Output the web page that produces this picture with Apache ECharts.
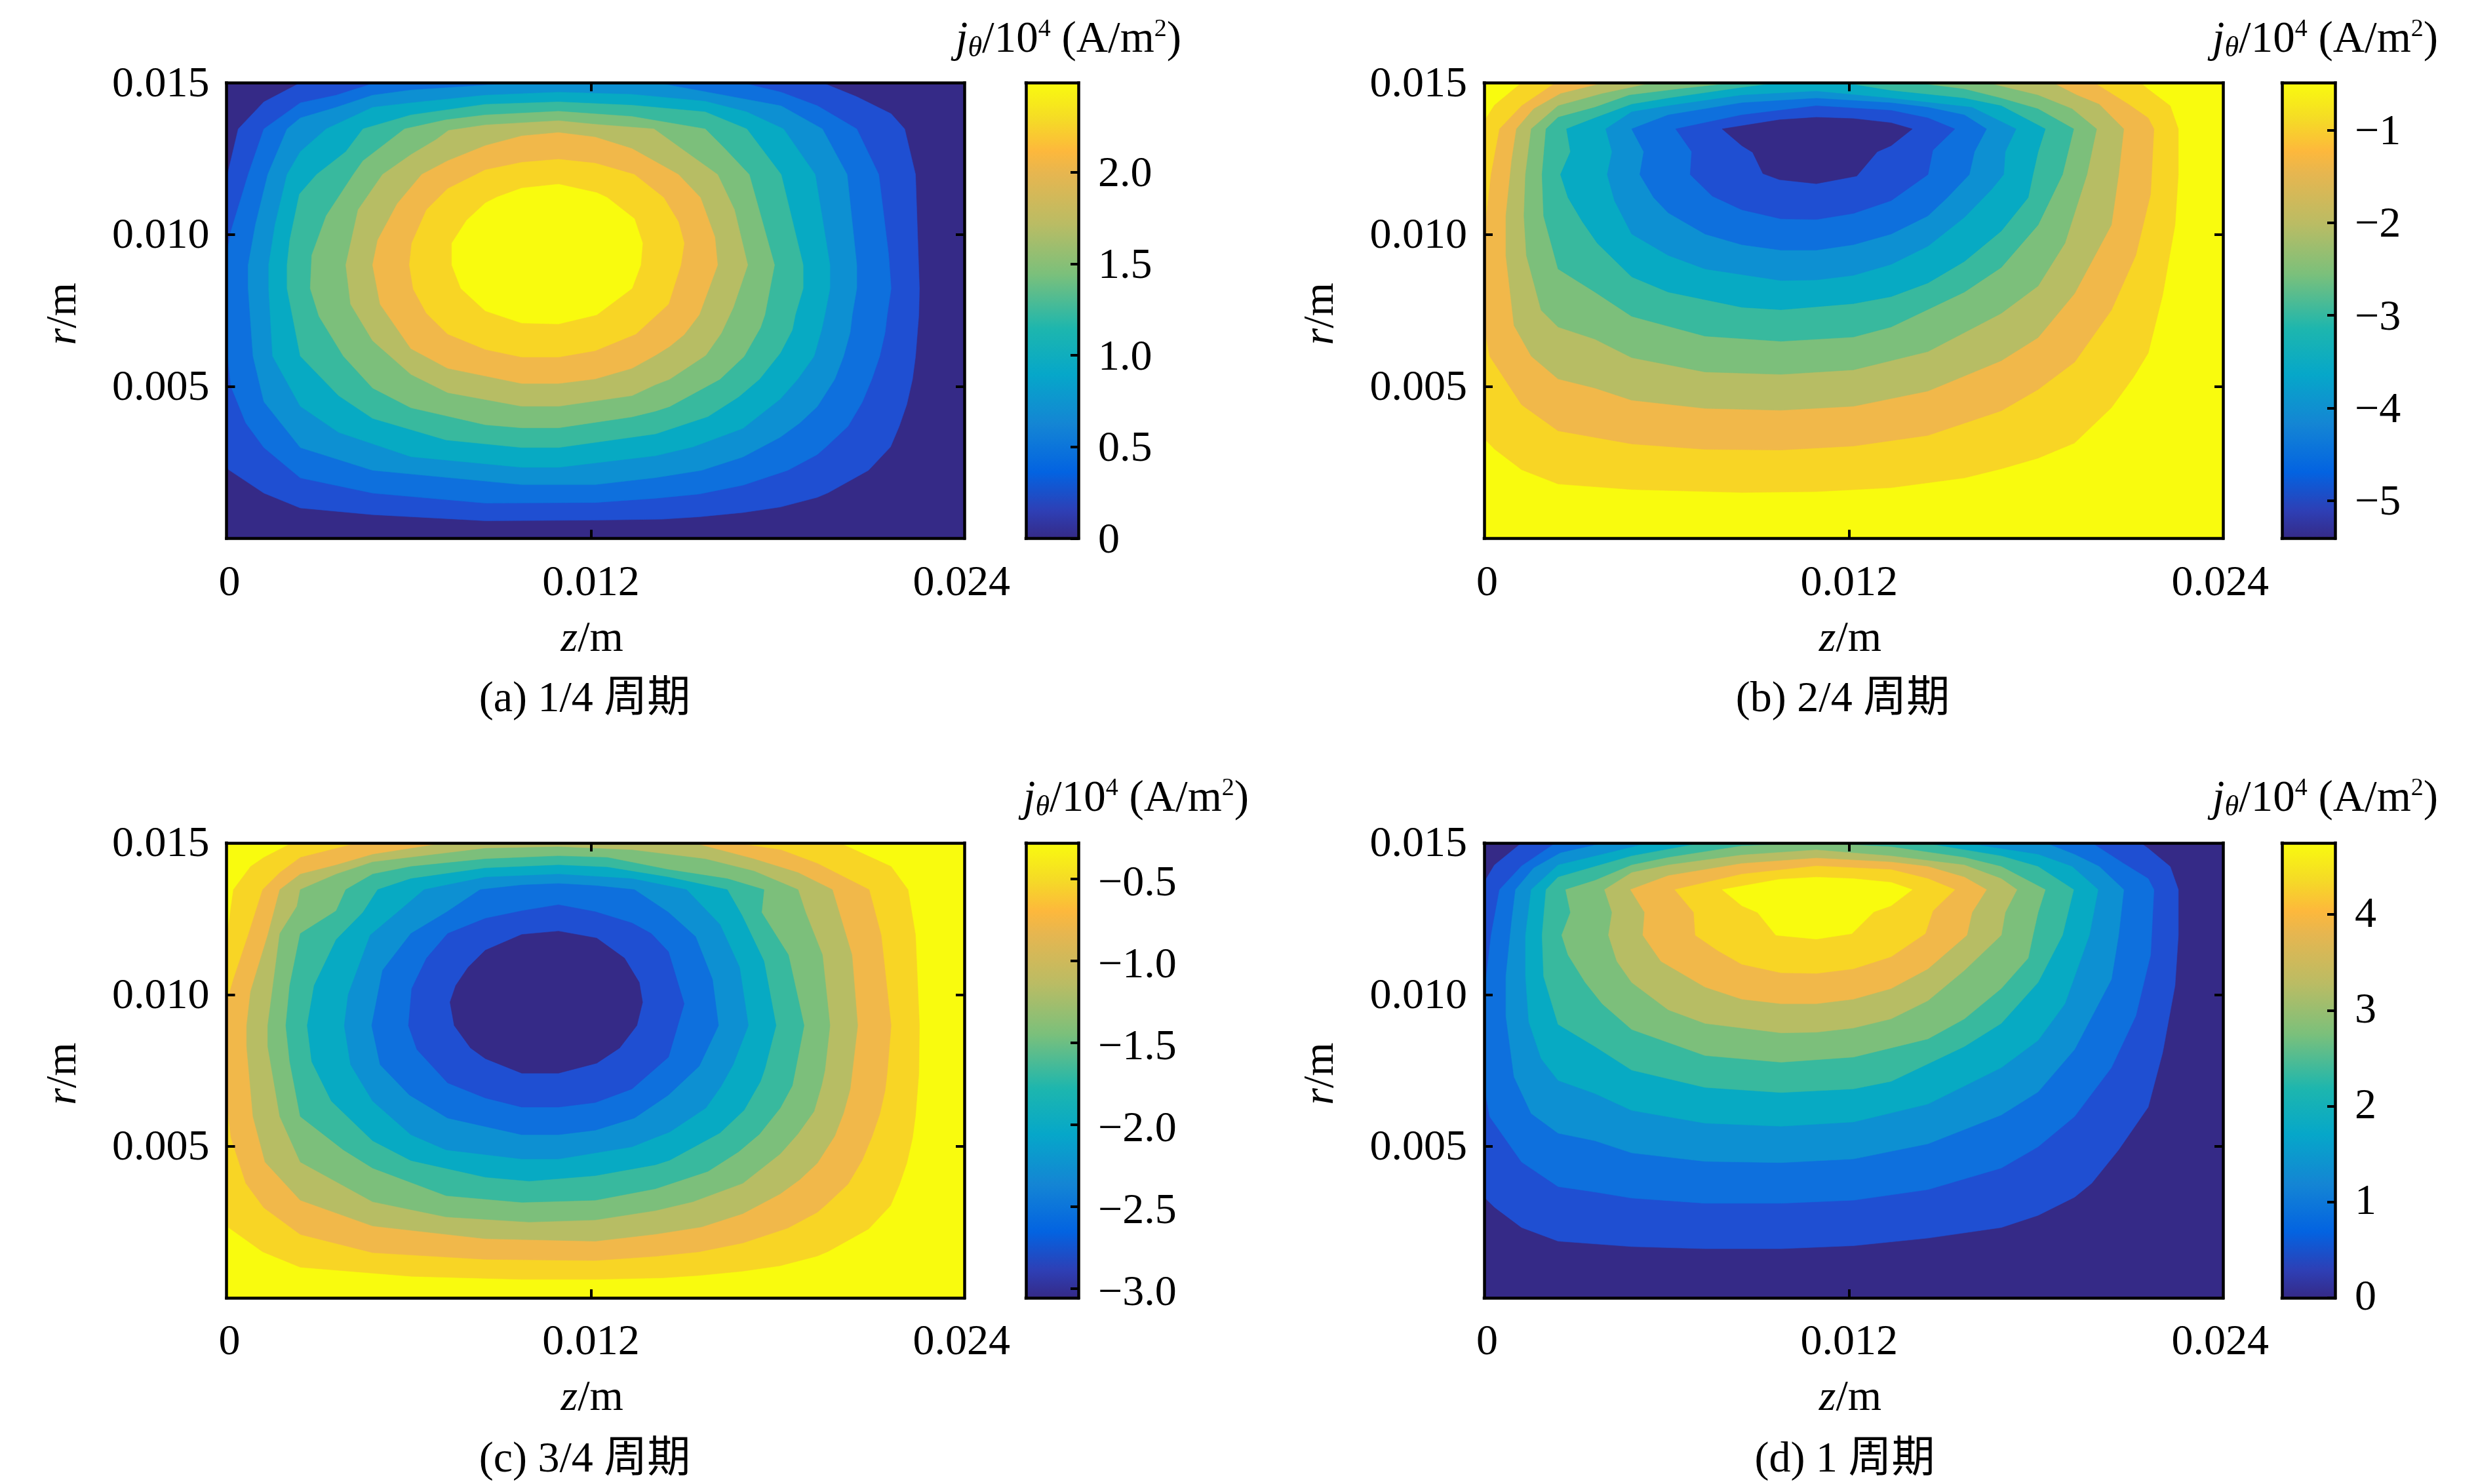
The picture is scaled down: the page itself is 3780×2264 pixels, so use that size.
<!DOCTYPE html>
<html><head><meta charset="utf-8">
<style>html,body{margin:0;padding:0;background:#fff}#c{width:3780px;height:2264px}</style>
<script src="https://cdn.jsdelivr.net/npm/echarts@6/dist/echarts.min.js"></script>
</head><body><div id="c"></div>
<script>
// Contour band outlines: [z (mm), r (mm)]. Each band covers everything past its level.
const zLimits=[-0.1,24.39], rLimits=[0,15];
const plotArea=[[-0.1,0],[24.39,0],[24.39,15],[-0.1,15]];

const a1=[[2.35,15],[1.14,14.37],[0.29,13.48],[-0.08,11.93],[-0.1,11.33],[-0.1,2.39],[-0.03,2.26],[1.14,1.49],[2.35,1.0],[4.75,0.78],[8.49,0.58],[12.14,0.6],[14.36,0.63],[15.59,0.71],[17.04,0.85],[18.28,1.03],[19.51,1.35],[19.87,1.5],[21.21,2.24],[21.94,3.01],[22.23,3.69],[22.48,4.41],[22.67,5.24],[22.77,5.99],[22.88,7.36],[22.9,8.23],[22.77,11.98],[22.41,13.48],[21.96,13.98],[20.82,14.54],[19.68,15]];
const a2=[[4.84,15],[3.54,14.59],[2.35,14.34],[1.14,13.48],[0.62,11.98],[0.05,10.12],[-0.1,9.32],[-0.1,6.31],[0.05,5.0],[0.54,3.8],[1.14,2.99],[2.35,1.99],[4.75,1.49],[8.49,1.16],[12.14,1.18],[14.14,1.32],[15.59,1.46],[17.04,1.75],[18.53,2.24],[19.51,2.76],[19.8,3.01],[20.53,3.69],[21.0,4.48],[21.32,5.24],[21.58,5.99],[21.76,6.78],[21.83,7.36],[21.96,8.23],[21.88,9.32],[21.55,11.98],[20.82,13.48],[19.52,14.24],[18.31,14.69],[17.01,15]];
const a3=[[9.7,15],[6.02,14.76],[4.75,14.59],[3.54,14.19],[2.35,13.84],[1.91,13.48],[1.27,11.98],[0.86,10.32],[0.62,9.0],[0.62,8.23],[0.78,6.0],[1.14,4.5],[2.35,2.99],[4.75,2.24],[9.7,1.77],[12.14,1.77],[14.14,2.0],[15.67,2.24],[17.04,2.68],[18.28,3.33],[18.93,3.8],[19.51,4.34],[20.09,5.24],[20.38,5.99],[20.6,6.78],[20.67,7.36],[20.82,8.23],[20.82,9.0],[20.5,11.98],[19.68,13.48],[18.31,14.24],[15.87,14.69],[14.17,15]];
const a4=[[10.92,14.69],[8.49,14.59],[6.02,14.34],[4.75,14.19],[3.21,13.48],[2.35,12.73],[1.91,11.98],[1.51,10.32],[1.3,9.0],[1.3,8.23],[1.43,6.0],[2.35,4.35],[3.62,3.49],[6.02,2.69],[9.7,2.34],[10.92,2.34],[14.14,2.72],[15.38,3.01],[17.04,3.62],[18.28,4.59],[18.86,5.24],[19.4,5.99],[19.65,6.86],[19.76,7.36],[19.93,8.23],[19.93,9.0],[19.44,11.98],[18.39,13.48],[17.17,14.04],[15.79,14.39],[13.36,14.62]];
const a5=[[10.92,14.37],[8.49,14.29],[6.02,13.94],[4.43,13.48],[3.86,12.73],[2.89,11.98],[2.32,11.33],[2.0,9.82],[1.91,9.0],[1.91,8.23],[2.35,6.0],[3.62,4.7],[4.75,3.95],[7.19,3.24],[9.7,2.99],[10.92,2.99],[14.14,3.44],[15.88,4.01],[16.9,4.66],[17.59,5.24],[18.28,6.1],[18.68,6.86],[18.78,7.36],[19.04,8.23],[19.04,9.0],[18.31,11.98],[17.17,13.48],[15.79,14.04],[13.36,14.26]];
const a6=[[10.92,14.06],[8.49,13.94],[7.19,13.78],[5.81,13.48],[4.43,12.43],[4.11,11.98],[3.21,10.62],[2.73,9.32],[2.68,8.23],[2.97,7.31],[3.78,6.0],[4.75,4.95],[6.02,4.3],[8.49,3.74],[9.7,3.64],[10.92,3.64],[13.36,4.0],[14.14,4.19],[14.61,4.34],[16.28,5.24],[17.08,5.99],[17.62,6.93],[17.77,7.36],[18.09,9.0],[17.25,11.98],[16.44,12.83],[15.79,13.48],[13.36,13.89]];
const a7=[[10.92,13.75],[9.7,13.68],[8.49,13.61],[7.27,13.43],[6.86,13.13],[6.02,12.63],[5.08,11.98],[4.27,10.82],[3.86,9.0],[4.02,7.71],[4.75,6.51],[6.02,5.4],[7.24,4.8],[9.7,4.35],[10.92,4.35],[13.36,4.7],[14.14,5.06],[14.61,5.24],[15.81,6.03],[16.32,6.75],[16.72,7.6],[17.2,9.0],[16.76,10.82],[16.2,11.98],[15.14,12.73],[14.09,13.48],[12.14,13.63]];
const a8=[[10.92,13.36],[9.7,13.25],[8.49,12.93],[7.24,12.43],[6.38,11.98],[5.57,11.02],[4.92,9.82],[4.75,9.0],[5.0,7.71],[6.02,6.25],[7.24,5.6],[9.7,5.1],[10.92,5.1],[12.14,5.25],[13.36,5.6],[14.14,6.03],[14.61,6.32],[15.09,6.71],[15.59,7.36],[16.2,9.0],[16.11,9.92],[15.63,11.22],[14.9,11.98],[13.36,12.83],[12.14,13.21]];
const a9=[[10.92,12.48],[9.7,12.38],[8.49,12.13],[7.24,11.51],[6.54,10.82],[6.05,9.72],[5.97,9.0],[6.1,8.21],[6.54,7.41],[7.24,6.73],[8.49,6.22],[9.7,5.97],[10.92,5.97],[12.14,6.18],[13.49,6.73],[14.57,7.71],[14.98,9.0],[15.09,9.72],[14.9,10.42],[14.41,11.22],[13.44,11.98],[12.14,12.35]];
const a10=[[10.92,11.66],[9.7,11.53],[8.89,11.24],[8.49,11.04],[7.87,10.47],[7.38,9.72],[7.38,9.0],[7.68,8.23],[8.49,7.49],[9.7,7.09],[10.92,7.06],[12.19,7.36],[13.36,8.23],[13.65,9.0],[13.71,9.72],[13.44,10.52],[12.54,11.22],[12.19,11.38]];

const b1=[[1.14,15],[0.24,14.26],[-0.03,13.84],[-0.1,13.63],[-0.1,3.29],[0.24,2.94],[1.14,2.26],[2.35,1.79],[4.79,1.61],[8.44,1.51],[10.91,1.54],[13.39,1.67],[15.82,1.99],[17.04,2.29],[18.26,2.64],[19.47,3.14],[20.69,4.3],[21.42,5.3],[21.91,6.1],[22.39,8.01],[22.8,10.32],[22.91,11.98],[22.91,13.48],[22.64,14.24],[21.91,14.79],[21.66,15]];
const b2=[[2.27,15],[1.14,14.24],[0.41,13.48],[0.13,11.98],[-0.03,10.62],[-0.1,10.32],[-0.1,7.01],[0.08,6.0],[1.14,4.4],[2.35,3.54],[4.79,3.11],[7.22,2.93],[9.74,2.91],[12.14,3.04],[14.61,3.39],[17.04,4.2],[18.26,4.9],[19.47,5.8],[20.69,7.51],[21.5,9.32],[21.99,11.33],[22.1,13.48],[21.91,13.84],[21.26,14.29],[20.12,15]];
const b3=[[3.89,15],[2.43,14.64],[1.54,14.14],[0.97,13.48],[0.81,12.43],[0.62,10.62],[0.62,9.32],[0.89,7.01],[1.46,6.0],[2.35,5.25],[3.57,4.95],[4.79,4.55],[7.22,4.28],[9.74,4.22],[12.14,4.35],[14.61,4.85],[17.04,5.85],[18.26,6.61],[19.47,8.06],[20.69,10.32],[20.93,11.98],[21.1,13.48],[20.29,14.29],[19.55,14.59],[18.74,15]];
const b4=[[5.52,15],[3.81,14.64],[2.35,14.24],[1.46,13.48],[1.27,11.98],[1.22,10.62],[1.3,9.32],[1.79,7.51],[2.35,6.96],[3.57,6.56],[4.79,5.95],[7.22,5.48],[9.74,5.4],[12.14,5.55],[14.61,6.15],[17.04,7.41],[18.26,8.31],[19.15,9.72],[19.88,11.98],[20.2,13.48],[19.39,14.14],[18.26,14.59],[16.55,15]];
const b5=[[8.28,15],[6.33,14.79],[4.71,14.59],[3.57,14.19],[2.35,13.86],[1.95,13.48],[1.82,11.98],[1.87,10.62],[2.35,8.87],[3.57,8.11],[4.79,7.31],[7.22,6.66],[9.74,6.49],[12.14,6.63],[13.39,6.96],[15.82,8.11],[17.04,8.92],[18.26,10.32],[19.07,11.98],[19.44,13.48],[18.26,14.14],[17.04,14.49],[15.82,14.79],[14.12,15]];
const b6=[[9.74,15],[8.44,14.84],[6.0,14.49],[4.79,14.29],[3.57,13.84],[2.63,13.48],[2.76,12.73],[2.43,11.98],[2.68,11.22],[3.16,10.42],[3.65,9.72],[4.79,8.61],[6.0,8.11],[8.44,7.61],[9.74,7.53],[12.14,7.73],[13.39,7.96],[14.61,8.41],[15.82,9.12],[17.04,10.12],[17.93,11.22],[18.09,11.98],[18.26,12.73],[18.5,13.48],[17.04,14.24],[15.82,14.49],[13.39,14.74],[12.14,14.94],[10.91,14.96]];
const b7=[[10.91,14.72],[8.44,14.59],[6.0,14.24],[4.79,14.04],[3.93,13.48],[4.14,12.73],[3.98,11.98],[4.22,11.12],[4.79,10.02],[6.0,9.32],[7.22,8.87],[9.74,8.49],[10.91,8.51],[12.14,8.66],[13.39,9.02],[14.61,9.62],[15.82,10.57],[16.71,11.48],[17.12,11.98],[17.17,12.73],[17.53,13.48],[16.07,14.19],[13.39,14.49]];
const b8=[[10.91,14.49],[8.44,14.34],[6.0,13.94],[4.79,13.48],[5.19,12.73],[5.06,11.98],[5.52,11.22],[6.0,10.72],[7.22,10.02],[8.44,9.67],[9.74,9.49],[10.91,9.49],[12.14,9.67],[13.39,10.02],[14.61,10.62],[15.25,11.22],[15.98,11.98],[16.15,12.73],[16.55,13.48],[15.82,13.94],[14.61,14.19],[13.39,14.34]];
const b9=[[10.91,14.24],[8.44,13.94],[6.25,13.48],[6.78,12.73],[6.73,11.98],[7.46,11.27],[8.44,10.82],[9.74,10.52],[10.91,10.5],[12.14,10.7],[13.39,11.12],[14.61,11.98],[14.77,12.78],[15.5,13.48],[14.61,13.84],[13.39,14.09]];
const b10=[[10.91,13.86],[9.69,13.78],[7.79,13.48],[8.44,12.93],[8.8,12.71],[9.14,12.01],[9.69,11.81],[10.91,11.68],[12.25,11.93],[12.93,12.73],[13.39,12.93],[14.09,13.48],[13.39,13.68],[12.14,13.82]];

const c1=[[2.08,15],[1.14,14.52],[0.7,14.22],[0.13,13.46],[-0.08,11.96],[-0.1,10.3],[-0.1,5.28],[-0.03,2.32],[1.1,1.52],[2.35,1.01],[6.05,0.71],[9.7,0.61],[12.14,0.61],[14.36,0.66],[15.59,0.74],[17.04,0.88],[18.28,1.06],[19.51,1.38],[19.87,1.53],[21.21,2.27],[21.94,3.04],[22.23,3.72],[22.48,4.44],[22.67,5.27],[22.77,6.02],[22.88,7.39],[22.9,8.98],[22.77,11.96],[22.52,13.46],[21.96,14.22],[20.25,15]];
const c2=[[4.27,15],[2.35,14.52],[1.67,14.02],[1.1,13.46],[0.62,11.96],[0.13,10.5],[-0.1,9.7],[-0.1,6.49],[0.05,5.28],[0.54,3.78],[1.14,2.97],[2.35,2.09],[4.75,1.49],[8.49,1.27],[12.14,1.23],[14.14,1.37],[15.59,1.52],[17.04,1.81],[18.53,2.3],[19.51,2.82],[19.8,3.07],[20.53,3.75],[21.0,4.54],[21.32,5.3],[21.58,6.05],[21.76,6.84],[21.83,7.42],[21.96,8.98],[21.88,9.7],[21.63,11.96],[21.23,13.46],[19.52,14.32],[18.31,14.77],[16.76,15]];
const c3=[[7.19,15],[4.75,14.62],[3.54,14.27],[2.35,13.97],[1.67,13.46],[1.27,11.96],[0.7,10.1],[0.57,8.98],[0.57,8.29],[0.78,5.98],[1.18,4.48],[2.35,3.22],[4.75,2.37],[8.49,1.95],[12.14,1.87],[14.14,2.1],[15.67,2.34],[17.04,2.78],[18.28,3.43],[18.93,3.9],[19.51,4.44],[20.09,5.34],[20.38,6.09],[20.6,6.88],[20.67,7.46],[20.85,8.98],[20.66,11.31],[20.01,13.46],[18.87,14.02],[17.41,14.47],[15.38,15]];
const c4=[[10.92,14.87],[8.49,14.82],[4.75,14.37],[3.54,13.97],[2.35,13.46],[2.24,12.91],[1.67,12.01],[1.27,8.98],[1.27,8.29],[1.67,5.98],[2.35,4.48],[4.75,3.17],[7.19,2.67],[9.95,2.5],[12.14,2.57],[14.14,2.88],[15.38,3.17],[17.04,3.78],[18.28,4.75],[18.86,5.4],[19.4,6.15],[19.65,7.0],[19.76,7.5],[19.93,8.98],[19.68,11.31],[19.12,12.71],[18.87,13.46],[17.41,14.07],[15.79,14.47],[13.36,14.77]];
const c5=[[10.92,14.57],[8.49,14.47],[6.02,14.22],[4.75,13.97],[3.86,13.46],[3.54,12.76],[2.35,12.01],[2.0,10.3],[1.87,8.98],[2.0,7.79],[2.35,5.98],[3.78,4.88],[4.75,4.28],[7.19,3.37],[9.7,3.15],[12.14,3.22],[14.14,3.6],[15.88,4.17],[16.9,4.82],[17.59,5.4],[18.28,6.26],[18.68,7.0],[18.78,7.5],[19.07,8.98],[18.55,11.31],[17.66,12.71],[17.74,13.46],[16.52,13.82],[14.57,14.12],[12.54,14.52]];
const c6=[[10.92,14.27],[8.49,14.17],[6.02,13.82],[4.92,13.46],[4.43,12.71],[3.54,11.81],[2.81,10.3],[2.58,8.98],[2.73,7.79],[3.38,6.49],[4.75,5.18],[6.02,4.53],[8.49,3.98],[9.95,3.85],[12.14,4.03],[14.14,4.39],[14.61,4.54],[16.28,5.44],[17.08,6.19],[17.62,7.13],[17.77,7.56],[18.14,8.98],[17.74,11.1],[17.01,12.61],[16.52,13.46],[14.57,13.87],[12.54,14.2]];
const c7=[[10.92,13.97],[8.49,13.87],[6.46,13.46],[5.57,12.71],[4.67,11.96],[3.94,10.0],[3.81,8.98],[4.02,7.69],[4.75,6.49],[6.02,5.38],[7.19,4.88],[9.7,4.58],[10.92,4.58],[13.36,4.98],[14.14,5.29],[14.61,5.47],[15.81,6.26],[16.32,6.98],[16.72,7.7],[17.22,8.98],[16.93,10.9],[16.28,12.31],[15.17,13.46],[13.36,13.82]];
const c8=[[10.92,13.66],[9.7,13.61],[8.32,13.46],[7.19,12.71],[6.02,12.01],[5.08,10.8],[4.72,8.98],[5.0,7.69],[5.97,6.69],[7.24,5.93],[9.7,5.38],[10.92,5.38],[12.14,5.53],[13.44,5.93],[14.57,6.69],[15.59,7.64],[16.23,8.98],[16.03,10.5],[15.47,11.91],[14.57,12.71],[13.44,13.46],[12.14,13.59]];
const c9=[[10.92,12.96],[9.7,12.76],[8.49,12.51],[7.24,12.01],[6.54,11.2],[6.05,10.2],[5.94,8.98],[6.22,8.19],[7.24,7.09],[8.49,6.59],[9.7,6.29],[10.92,6.29],[12.14,6.44],[13.36,6.89],[14.57,7.94],[15.09,9.7],[14.57,11.41],[14.0,12.01],[13.36,12.36],[12.14,12.73]];
const c10=[[10.92,12.09],[9.7,11.98],[8.49,11.46],[7.92,10.9],[7.51,10.3],[7.32,9.75],[7.46,8.98],[8.0,8.24],[8.49,7.89],[9.7,7.41],[10.92,7.41],[12.19,7.74],[12.95,8.24],[13.52,8.98],[13.71,9.75],[13.6,10.4],[13.11,11.2],[12.19,11.86]];

const d1=[[1.14,15],[0.24,14.27],[-0.03,13.82],[-0.1,13.61],[-0.1,3.32],[0.24,2.99],[1.14,2.32],[2.35,1.87],[4.79,1.69],[7.22,1.62],[9.74,1.62],[12.14,1.72],[14.61,1.97],[17.04,2.32],[18.26,2.72],[19.47,3.32],[20.04,3.78],[20.93,4.88],[21.91,6.29],[22.39,8.09],[22.8,10.3],[22.91,11.96],[22.91,13.46],[22.64,14.22],[21.91,14.82],[21.66,15]];
const d2=[[2.27,15],[1.14,14.24],[0.41,13.46],[0.13,11.96],[-0.03,10.6],[-0.1,10.3],[-0.1,6.99],[0.08,5.98],[1.14,4.48],[2.35,3.67],[3.57,3.49],[4.79,3.29],[7.22,3.12],[9.74,3.12],[12.14,3.22],[14.61,3.57],[17.04,4.28],[18.26,4.98],[19.47,5.98],[20.69,7.59],[21.5,9.3],[21.99,11.31],[22.1,13.46],[21.91,13.82],[21.1,14.32],[20.04,15]];
const d3=[[3.89,15],[2.43,14.67],[1.54,14.17],[0.94,13.46],[0.81,12.41],[0.62,10.6],[0.62,9.3],[0.89,7.29],[1.46,6.08],[2.35,5.43],[3.57,5.18],[4.79,4.78],[7.22,4.5],[9.74,4.46],[12.14,4.58],[14.61,5.08],[17.04,6.03],[18.26,6.79],[19.47,8.19],[20.69,10.5],[20.93,11.96],[21.1,13.46],[20.29,14.22],[19.47,14.62],[18.5,15]];
const d4=[[5.36,15],[3.81,14.62],[2.35,14.27],[1.46,13.46],[1.27,11.96],[1.27,10.6],[1.38,9.1],[1.79,7.89],[2.35,7.17],[3.57,6.74],[4.79,6.18],[7.22,5.76],[9.74,5.66],[12.14,5.8],[14.61,6.39],[17.04,7.59],[18.26,8.49],[19.15,9.7],[19.96,11.96],[20.25,13.46],[19.39,14.22],[18.26,14.62],[15.82,15]];
const d5=[[7.14,15],[4.79,14.57],[3.57,14.22],[2.35,13.87],[1.95,13.46],[1.82,11.96],[1.87,10.6],[2.35,9.02],[3.57,8.29],[4.79,7.51],[7.22,6.94],[9.74,6.77],[12.14,6.89],[13.39,7.14],[15.82,8.29],[17.04,9.05],[18.26,10.4],[19.07,11.96],[19.44,13.46],[18.26,14.22],[17.04,14.57],[14.44,15]];
const d6=[[8.44,14.9],[6.0,14.52],[4.79,14.27],[3.57,13.76],[2.6,13.46],[2.76,12.71],[2.47,11.96],[2.68,11.31],[3.25,10.4],[3.81,9.7],[4.79,8.85],[7.22,7.99],[9.74,7.77],[12.14,7.94],[14.61,8.54],[15.82,9.2],[17.04,10.2],[17.93,11.2],[18.09,11.96],[18.26,12.71],[18.5,13.46],[17.04,14.22],[15.82,14.52],[13.39,14.87],[10.91,15]];
const d7=[[10.91,14.77],[8.44,14.6],[6.0,14.27],[4.79,14.02],[3.89,13.46],[4.14,12.71],[4.02,11.96],[4.3,11.1],[4.79,10.4],[6.0,9.5],[7.22,9.05],[9.74,8.74],[10.91,8.76],[12.14,8.9],[13.39,9.2],[14.61,9.8],[15.82,10.8],[17.04,11.96],[17.17,12.71],[17.56,13.46],[17.04,13.82],[15.82,14.27],[13.39,14.57]];
const d8=[[10.91,14.5],[8.44,14.32],[6.0,13.92],[4.75,13.46],[5.22,12.71],[5.16,11.96],[5.76,11.1],[7.22,10.25],[8.44,9.85],[9.74,9.7],[10.91,9.7],[12.14,9.85],[13.39,10.2],[14.61,10.85],[15.9,11.96],[16.07,12.71],[16.55,13.46],[15.82,13.87],[14.61,14.22],[13.39,14.37]];
const d9=[[10.91,14.24],[8.44,13.97],[6.22,13.46],[6.85,12.71],[6.9,11.96],[7.63,11.46],[8.44,11.0],[9.74,10.72],[10.91,10.7],[12.14,10.85],[13.39,11.25],[14.52,12.01],[14.77,12.76],[15.5,13.46],[14.61,13.82],[13.39,14.12]];
const d10=[[10.91,13.87],[9.69,13.8],[7.79,13.46],[8.44,12.93],[8.96,12.71],[9.57,11.96],[10.91,11.83],[12.09,12.01],[12.82,12.73],[13.39,12.93],[14.09,13.46],[13.39,13.7],[12.14,13.82]];

// tick values and labels
const zTickValues=[0,12,24.3], zTickLabels=['0','0.012','0.024'], zMarks=[12];
const rTickValues=[5,10,15], rTickLabels=['0.005','0.010','0.015'], rMarks=[5,10];
const aBarTicks=[0,0.5,1,1.5,2], aBarLabels=['0','0.5','1.0','1.5','2.0'], aBarRange=[0,2.49];
const bBarTicks=[-5,-4,-3,-2,-1], bBarLabels=['\u22125','\u22124','\u22123','\u22122','\u22121'], bBarRange=[-5.407,-0.488];
const cBarTicks=[-3,-2.5,-2,-1.5,-1,-0.5], cBarLabels=['\u22123.0','\u22122.5','\u22122.0','\u22121.5','\u22121.0','\u22120.5'], cBarRange=[-3.056,-0.281];
const dBarTicks=[0,1,2,3,4], dBarLabels=['0','1','2','3','4'], dBarRange=[0,4.747];
const captions=['(a) 1/4 \u5468\u671f','(b) 2/4 \u5468\u671f','(c) 3/4 \u5468\u671f','(d) 1 \u5468\u671f'];

// colours: low to high
const bandColors=['#352A87','#1F4FD2','#0E70DD','#0D90D2','#07AAC3','#38B99E','#7CBF7B','#B7BD64','#F1B84A','#F8D525','#F9FB0E'];
const barStops=[[0,'#352A87'],[0.06,'#2E3FB5'],[0.145,'#0363E1'],[0.25,'#1485D4'],[0.36,'#06A7C9'],[0.46,'#1DB6AE'],[0.58,'#7BC07B'],[0.69,'#BABC64'],[0.8,'#E6B650'],[0.85,'#FDB83C'],[0.92,'#F5DB26'],[1,'#F9FB0E']];

const panels=[
 {bands:[a1,a2,a3,a4,a5,a6,a7,a8,a9,a10],rising:true,ticks:aBarTicks,labels:aBarLabels,range:aBarRange,drop:4,
  box:[345.5,126.3,1125.5,695],bar:[1565,126.3,80,695],title:[1630,26],cap:[892,1035]},
 {bands:[b1,b2,b3,b4,b5,b6,b7,b8,b9,b10],rising:false,ticks:bBarTicks,labels:bBarLabels,range:bBarRange,drop:4,
  box:[2264,126.3,1127,695],bar:[3481,126.3,81,695],title:[3547,26],cap:[2811,1035]},
 {bands:[c1,c2,c3,c4,c5,c6,c7,c8,c9,c10],rising:false,ticks:cBarTicks,labels:cBarLabels,range:cBarRange,drop:8,
  box:[345.5,1286,1125.5,694],bar:[1565,1286,80,694],title:[1733,1184],cap:[892,2195]},
 {bands:[d1,d2,d3,d4,d5,d6,d7,d8,d9,d10],rising:true,ticks:dBarTicks,labels:dBarLabels,range:dBarRange,drop:1,
  box:[2264,1286,1127,694],bar:[3481,1286,81,694],title:[3547,1184],cap:[2814,2195]}
];

const serif='"Liberation Serif"', cjk='"Liberation Serif","Noto Sans CJK SC"';
const FS=66, LW=4.5;
const labelOf=(vals,labs)=>v=>{let k=0;vals.forEach((t,i)=>{if(Math.abs(t-v)<Math.abs(vals[k]-v))k=i;});return '{v|'+labs[k]+'}';};
const droppedLabel=d=>({v:{fontFamily:serif,fontSize:FS,color:'#000',padding:[d*2,0,0,0]}});
const plainLabel=(vals,labs)=>v=>{let k=0;vals.forEach((t,i)=>{if(Math.abs(t-v)<Math.abs(vals[k]-v))k=i;});return labs[k];};
const lineStyle={color:'#000',width:LW,cap:'square'};
const richName={i:{fontFamily:serif,fontStyle:'italic',fontSize:FS,color:'#000'},n:{fontFamily:serif,fontSize:FS,color:'#000'}};
const titleRich={
 j:{fontFamily:serif,fontStyle:'italic',fontWeight:'normal',fontSize:67,lineHeight:70,color:'#000'},
 t:{fontFamily:serif,fontStyle:'italic',fontWeight:'normal',fontSize:44,lineHeight:30,verticalAlign:'bottom',color:'#000'},
 n:{fontFamily:serif,fontWeight:'normal',fontSize:67,lineHeight:70,color:'#000'},
 s:{fontFamily:serif,fontWeight:'normal',fontSize:38,lineHeight:52,verticalAlign:'top',color:'#000'}
};

const grid=[],xAxis=[],yAxis=[],series=[],title=[];
panels.forEach(p=>{
  const g=grid.length;
  grid.push({left:p.box[0],top:p.box[1],width:p.box[2],height:p.box[3],containLabel:false});
  const xi=xAxis.length, yi=yAxis.length;
  const baseX={type:'value',gridIndex:g,min:zLimits[0],max:zLimits[1],splitLine:{show:false},z:5,
    axisLine:{show:true,onZero:false,lineStyle}};
  const baseY={type:'value',gridIndex:g,min:rLimits[0],max:rLimits[1],splitLine:{show:false},z:5,
    axisLine:{show:true,onZero:false,lineStyle}};
  const tick={show:true,inside:true,length:13,lineStyle:{color:'#000',width:4}};
  xAxis.push({...baseX,position:'bottom',
    name:'{i|z}{n|/m}',nameLocation:'middle',nameGap:121,nameTextStyle:{rich:richName,padding:[0,10,0,0]},
    axisTick:{...tick,customValues:zMarks},
    axisLabel:{show:true,customValues:zTickValues,formatter:plainLabel(zTickValues,zTickLabels),
      fontFamily:serif,fontSize:FS,color:'#000',margin:36,hideOverlap:false}});
  xAxis.push({...baseX,position:'top',axisLabel:{show:false},axisTick:{...tick,customValues:zMarks}});
  yAxis.push({...baseY,position:'left',
    name:'{i|r}{n|/m}',nameLocation:'middle',nameRotate:90,nameGap:215,nameTextStyle:{rich:richName,padding:[0,10,0,0]},
    axisTick:{...tick,customValues:rMarks},
    axisLabel:{show:true,customValues:rTickValues,formatter:labelOf(rTickValues,rTickLabels),
      rich:droppedLabel(3),fontFamily:serif,fontSize:FS,color:'#000',margin:26,hideOverlap:false}});
  yAxis.push({...baseY,position:'right',axisLabel:{show:false},axisTick:{...tick,customValues:rMarks}});

  const layers=[plotArea].concat(p.bands);
  const colors=p.rising?bandColors:bandColors.slice().reverse();
  series.push({type:'custom',xAxisIndex:xi,yAxisIndex:yi,clip:true,z:1,silent:true,
    data:layers.map((_,i)=>[i]),
    encode:{x:-1,y:-1},
    renderItem:(params,api)=>{
      const i=api.value(0);
      return {type:'polygon',shape:{points:layers[i].map(pt=>api.coord(pt))},
        style:{fill:colors[i],stroke:colors[i],lineWidth:0.6}};
    }});

  // colour bar
  const gb=grid.length;
  grid.push({left:p.bar[0],top:p.bar[1],width:p.bar[2],height:p.bar[3],containLabel:false});
  const xb=xAxis.length, yb=yAxis.length;
  const barX={type:'value',gridIndex:gb,min:0,max:1,splitLine:{show:false},axisLabel:{show:false},axisTick:{show:false},z:5,
    axisLine:{show:true,onZero:false,lineStyle}};
  xAxis.push({...barX,position:'bottom'});
  xAxis.push({...barX,position:'top'});
  const barY={type:'value',gridIndex:gb,min:p.range[0],max:p.range[1],splitLine:{show:false},z:5,
    axisLine:{show:true,onZero:false,lineStyle}};
  yAxis.push({...barY,position:'right',
    axisTick:{show:true,inside:true,length:12,lineStyle:{color:'#000',width:4},customValues:p.ticks},
    axisLabel:{show:true,customValues:p.ticks,formatter:labelOf(p.ticks,p.labels),
      rich:droppedLabel(p.drop),fontFamily:serif,fontSize:FS,color:'#000',margin:30,hideOverlap:false}});
  yAxis.push({...barY,position:'left',axisLabel:{show:false},axisTick:{show:false}});
  const rng=p.range;
  series.push({type:'custom',xAxisIndex:xb,yAxisIndex:yb,z:1,silent:true,
    data:[[0,rng[0],1,rng[1]]],encode:{x:[0,2],y:[1,3]},
    renderItem:(params,api)=>{
      const lo=api.coord([api.value(0),api.value(1)]), hi=api.coord([api.value(2),api.value(3)]);
      return {type:'rect',shape:{x:lo[0],y:hi[1],width:hi[0]-lo[0],height:lo[1]-hi[1]},
        style:{fill:new echarts.graphic.LinearGradient(0,1,0,0,barStops.map(s=>({offset:s[0],color:s[1]})))}};
    }});

  title.push({text:'{j|j}{t|\u03b8}{n|/10}{s|4}{n| (A/m}{s|2}{n|)}',left:p.title[0],top:p.title[1],textAlign:'center',padding:0,
    textStyle:{rich:titleRich,fontWeight:'normal'}});
});
panels.forEach((p,i)=>{
  title.push({text:captions[i],left:p.cap[0],top:p.cap[1],textAlign:'center',padding:0,
    textStyle:{fontFamily:cjk,fontSize:FS,fontWeight:'normal',color:'#000',lineHeight:66}});
});

const chart=echarts.init(document.getElementById('c'),null,{renderer:'canvas',width:3780,height:2264});
chart.setOption({animation:false,backgroundColor:'#fff',grid,xAxis,yAxis,series,title});
</script></body></html>
